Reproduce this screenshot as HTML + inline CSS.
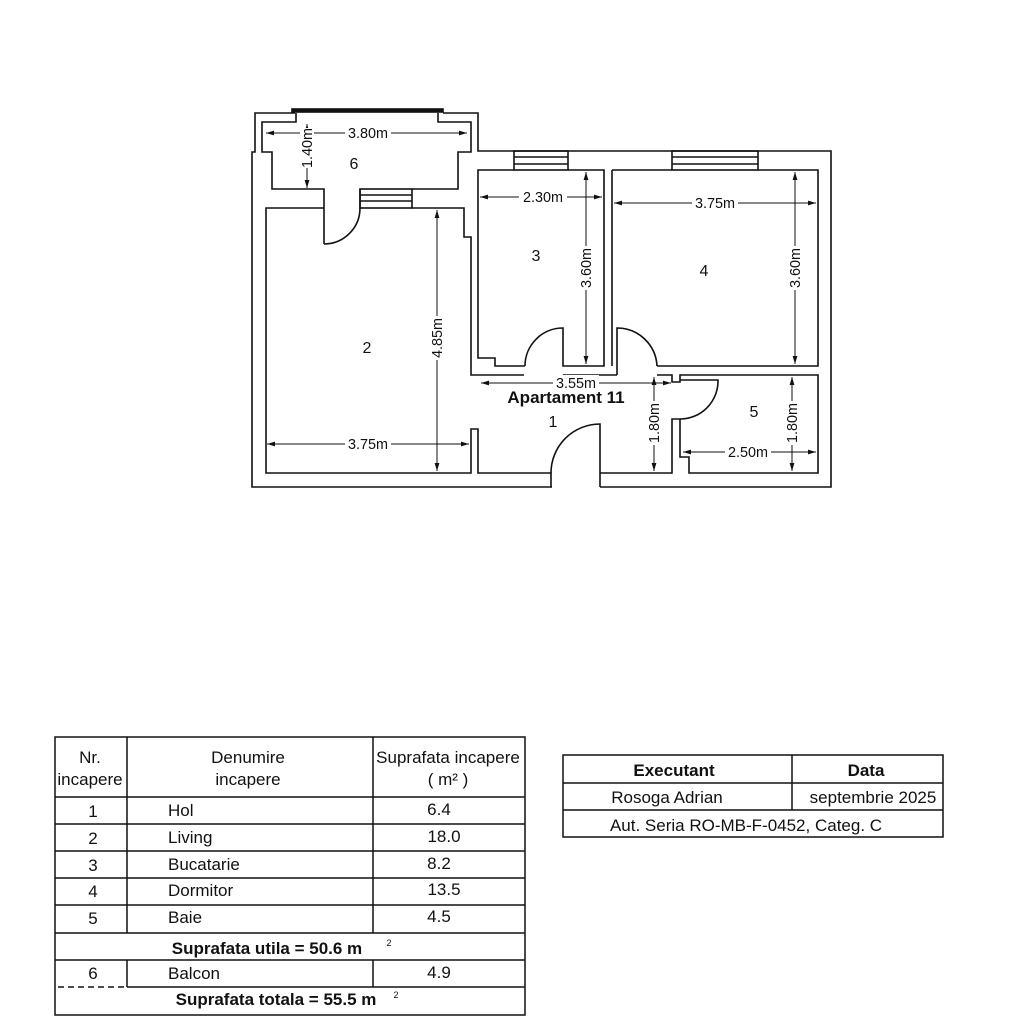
<!DOCTYPE html>
<html><head><meta charset="utf-8"><style>
html,body{margin:0;padding:0;background:#fff;}
svg{display:block}
text{font-family:"Liberation Sans",Arial,sans-serif;fill:#111}
</style></head><body>
<svg width="1013" height="1024" viewBox="0 0 1013 1024" xmlns="http://www.w3.org/2000/svg">
<defs>
<marker id="a" viewBox="0 0 10 6" refX="10" refY="3" markerWidth="8" markerHeight="5" orient="auto-start-reverse"><path d="M0,0 L10,3 L0,6 z" fill="#111"/></marker>
</defs>
<g fill="none" stroke="#111" stroke-width="1.6">
<polyline points="552,487 252,487 252,152 255,152 255,113 295,113"/>
<polyline points="443,113 478,113 478,151 831,151 831,487 600,487"/>
<rect x="292" y="109" width="151" height="3" fill="#111"/>
<polyline points="296,113 296,122 262,122 262,152 272,152 272,189 324,189 324,244"/>
<polyline points="438,113 438,122 471,122 471,152 458,152 458,189 412,189"/>
<polyline points="360,189 360,208"/>
<path d="M324,244 A36,36 0 0,0 360,208"/>
<rect x="360" y="189" width="52" height="19"/>
<line x1="360" y1="195" x2="412" y2="195"/><line x1="360" y1="201" x2="412" y2="201"/>
<polyline points="324,208 266,208 266,473 471,473 471,429 478,429 478,473 551,473 551,487"/>
<polyline points="412,208 464,208 464,237 471,237 471,375 524,375"/>
<path d="M551,473 A49,49 0 0,1 600,424 L600,487"/>
<polyline points="514,170 478,170 478,358 495,358 495,366 525,366"/>
<path d="M525,366 A38,38 0 0,1 563,328 L563,366 604,366 604,170 568,170"/>
<rect x="514" y="151" width="54" height="19"/>
<line x1="514" y1="157" x2="568" y2="157"/><line x1="514" y1="164" x2="568" y2="164"/>
<polyline points="612,170 612,366"/>
<polyline points="672,170 612,170"/>
<polyline points="758,170 818,170 818,366 657,366"/>
<rect x="672" y="151" width="86" height="19"/>
<line x1="672" y1="157" x2="758" y2="157"/><line x1="672" y1="164" x2="758" y2="164"/>
<path d="M617,375 L617,328 A40,40 0 0,1 657,366"/>
<polyline points="563,375 617,375"/>
<polyline points="657,375 672,375 672,382 680,382 680,375 818,375 818,473 689,473 689,457 680,457 680,419 672,419 672,473 600,473"/>
<path d="M680,380 L718,380 A38,38 0 0,1 680,419"/>
</g>
<g stroke="#111" stroke-width="1" marker-start="url(#a)" marker-end="url(#a)">
<line x1="266" y1="133" x2="467" y2="133"/>
<line x1="307" y1="124" x2="307" y2="188"/>
<line x1="480" y1="197" x2="602" y2="197"/>
<line x1="586" y1="172" x2="586" y2="364"/>
<line x1="614" y1="203" x2="816" y2="203"/>
<line x1="795" y1="172" x2="795" y2="364"/>
<line x1="481" y1="383" x2="671" y2="383"/>
<line x1="437" y1="210" x2="437" y2="471"/>
<line x1="267" y1="444" x2="469" y2="444"/>
<line x1="654" y1="377" x2="654" y2="471"/>
<line x1="792" y1="377" x2="792" y2="471"/>
<line x1="683" y1="452" x2="816" y2="452"/>
</g>
<g font-size="14.4" text-anchor="middle">
<rect x="345" y="125" width="46" height="15" fill="#fff"/><text x="368" y="138">3.80m</text>
<rect x="519" y="189" width="48" height="15" fill="#fff"/><text x="543" y="202">2.30m</text>
<rect x="692" y="195" width="46" height="15" fill="#fff"/><text x="715" y="208">3.75m</text>
<rect x="553" y="375" width="46" height="15" fill="#fff"/><text x="576" y="388">3.55m</text>
<rect x="345" y="436" width="46" height="15" fill="#fff"/><text x="368" y="449">3.75m</text>
<rect x="725" y="444" width="46" height="15" fill="#fff"/><text x="748" y="457">2.50m</text>
<g fill="#fff" stroke="none">
<rect x="300" y="128" width="14" height="40"/><rect x="579" y="246" width="14" height="44"/><rect x="788" y="246" width="14" height="44"/>
<rect x="430" y="316" width="14" height="44"/><rect x="647" y="401" width="14" height="44"/><rect x="785" y="401" width="14" height="44"/>
</g>
<text transform="translate(312,148) rotate(-90)">1.40m</text>
<text transform="translate(591,268) rotate(-90)">3.60m</text>
<text transform="translate(800,268) rotate(-90)">3.60m</text>
<text transform="translate(442,338) rotate(-90)">4.85m</text>
<text transform="translate(659,423) rotate(-90)">1.80m</text>
<text transform="translate(797,423) rotate(-90)">1.80m</text>
</g>
<g font-size="16" text-anchor="middle">
<text x="354" y="169">6</text><text x="367" y="353">2</text><text x="536" y="261">3</text>
<text x="704" y="276">4</text><text x="553" y="427">1</text><text x="754" y="417">5</text>
<text x="566" y="403" font-weight="bold" font-size="17">Apartament 11</text>
</g>
<g fill="none" stroke="#111" stroke-width="1.5">
<rect x="55" y="737" width="470" height="278"/>
<line x1="127" y1="737" x2="127" y2="933"/><line x1="373" y1="737" x2="373" y2="933"/>
<line x1="127" y1="960" x2="127" y2="987"/><line x1="373" y1="960" x2="373" y2="987"/>
<line x1="55" y1="797" x2="525" y2="797"/><line x1="55" y1="824" x2="525" y2="824"/>
<line x1="55" y1="851" x2="525" y2="851"/><line x1="55" y1="878" x2="525" y2="878"/>
<line x1="55" y1="905" x2="525" y2="905"/><line x1="55" y1="933" x2="525" y2="933"/>
<line x1="55" y1="960" x2="525" y2="960"/><line x1="127" y1="987" x2="525" y2="987"/>
<line x1="58" y1="987" x2="124" y2="987" stroke-dasharray="6,4"/>
</g>
<g font-size="17" text-anchor="middle">
<text x="90" y="763">Nr.</text><text x="90" y="785">incapere</text>
<text x="248" y="763">Denumire</text><text x="248" y="785">incapere</text>
<text x="448" y="763">Suprafata incapere</text><text x="448" y="785">( m² )</text>
<text x="93" y="817">1</text><text x="93" y="844">2</text><text x="93" y="871">3</text><text x="93" y="897">4</text><text x="93" y="924">5</text><text x="93" y="979">6</text>
<text x="439" y="815">6.4</text><text x="444" y="842">18.0</text><text x="439" y="869">8.2</text><text x="444" y="895">13.5</text><text x="439" y="922">4.5</text><text x="439" y="978">4.9</text>
<g text-anchor="start"><text x="168" y="816">Hol</text><text x="168" y="843">Living</text><text x="168" y="870">Bucatarie</text><text x="168" y="896">Dormitor</text><text x="168" y="923">Baie</text><text x="168" y="979">Balcon</text></g>
<text x="267" y="954" font-weight="bold">Suprafata utila = 50.6 m</text><text x="389" y="946" font-size="9">2</text>
<text x="276" y="1005" font-weight="bold">Suprafata totala = 55.5 m</text><text x="396" y="998" font-size="9">2</text>
</g>
<g fill="none" stroke="#111" stroke-width="1.5">
<rect x="563" y="755" width="380" height="82"/>
<line x1="792" y1="755" x2="792" y2="810"/>
<line x1="563" y1="783" x2="943" y2="783"/><line x1="563" y1="810" x2="943" y2="810"/>
</g>
<g font-size="17" text-anchor="middle">
<text x="674" y="776" font-weight="bold">Executant</text><text x="866" y="776" font-weight="bold">Data</text>
<text x="667" y="803">Rosoga Adrian</text><text x="873" y="803">septembrie 2025</text>
<text x="746" y="831">Aut. Seria RO-MB-F-0452, Categ. C</text>
</g>
</svg>
</body></html>
